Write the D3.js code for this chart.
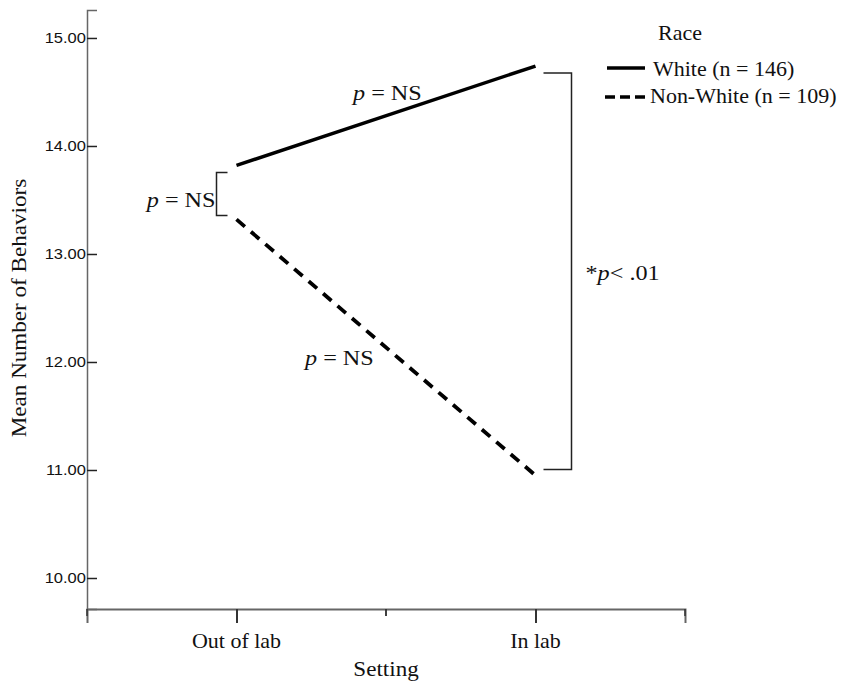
<!DOCTYPE html>
<html>
<head>
<meta charset="utf-8">
<script src="https://cdn.jsdelivr.net/npm/d3@7"></script>
<style>
  body { margin: 0; background: #fff; }
  .serif { font-family: "Liberation Serif", "Times New Roman", serif; fill: #111; }
  .tick text { font-family: "Liberation Sans", Arial, sans-serif; font-size: 15px; fill: #111; }
</style>
</head>
<body>
<script>
// Data
const settings = ['Out of lab', 'In lab'];
const whiteMeans = [13.82, 14.74];
const nonWhiteMeans = [13.32, 10.95];
const yTicks = [10, 11, 12, 13, 14, 15];
const seriesNames = ['White (n = 146)', 'Non-White (n = 109)'];

// SVG Canvas
const width = 845;
const height = 686;
const margin = { top: 10, left: 87, right: 160, bottom: 77 };
const sx = 1.1; // the source text is a bit wide

const svg = d3.select('body')
  .append('svg')
    .attr('width', width)
    .attr('height', height);

// Scales
const x = d3.scalePoint()
  .domain(settings)
  .range([margin.left, width - margin.right])
  .padding(0.5);

const xBand = d3.scaleBand()
  .domain(settings)
  .range([margin.left, width - margin.right]);

const y = d3.scaleLinear()
  .domain([9.713, 15.259])
  .range([height - margin.bottom, margin.top]);

// Text helper
function label(g, px, py, size, parts, anchor) {
  const t = g.append('text')
    .attr('class', 'serif')
    .attr('transform', `translate(${px},${py}) scale(${sx},1)`)
    .attr('font-size', size)
    .attr('text-anchor', anchor || 'start');
  parts.forEach((p) => {
    t.append('tspan')
      .attr('font-style', p.italic ? 'italic' : null)
      .text(p.text);
  });
  return t;
}
const pNS = [{ text: 'p', italic: true }, { text: ' = NS' }];

// Y axis
const yAxis = svg.append('g')
  .attr('transform', `translate(${margin.left},0)`)
  .call(d3.axisLeft(y).tickValues(yTicks).tickFormat(d3.format('.2f')).tickSize(-10).tickPadding(1));
yAxis.select('.domain').attr('stroke', '#666').attr('stroke-width', 1.5);
yAxis.selectAll('.tick line').attr('stroke', '#222').attr('stroke-width', 1.5);
yAxis.selectAll('.tick text').attr('transform', `scale(${sx},1)`);

// X axis
const xAxis = svg.append('g')
  .attr('transform', `translate(0,${height - margin.bottom})`)
  .call(d3.axisBottom(x).tickSize(14).tickFormat(''));
xAxis.select('.domain').attr('stroke', '#666').attr('stroke-width', 2);
xAxis.selectAll('.tick line').attr('stroke', '#333').attr('stroke-width', 2);

// boundary ticks between categories
const edges = settings.map((d) => xBand(d)).concat([xBand.range()[1]]);
edges.push((edges[0] + edges[edges.length - 1]) / 2);
xAxis.selectAll('line.minor')
    .data(edges)
  .enter().append('line')
    .attr('class', 'minor')
    .attr('x1', (d) => d)
    .attr('x2', (d) => d)
    .attr('y1', 0)
    .attr('y2', 7)
    .attr('stroke', '#333')
    .attr('stroke-width', 1.5);

settings.forEach((s) => {
  label(svg, x(s), height - 38, 20, [{ text: s }], 'middle');
});

// Axis titles
label(svg, (margin.left + width - margin.right) / 2, height - 10, 21, [{ text: 'Setting' }], 'middle');
svg.append('text')
    .attr('class', 'serif')
    .attr('transform', `translate(26,308) rotate(-90) scale(${sx},1)`)
    .attr('font-size', 21)
    .attr('text-anchor', 'middle')
    .text('Mean Number of Behaviors');

// Lines
const line = d3.line()
  .x((d, i) => x(settings[i]))
  .y((d) => y(d));

svg.append('path')
    .datum(whiteMeans)
    .attr('d', line)
    .attr('fill', 'none')
    .attr('stroke', '#000')
    .attr('stroke-width', 3.5);

svg.append('path')
    .datum(nonWhiteMeans)
    .attr('d', line)
    .attr('fill', 'none')
    .attr('stroke', '#000')
    .attr('stroke-width', 3.8)
    .attr('stroke-dasharray', '11,8');

// Brackets
const bracket = d3.line();
const lx = x(settings[0]) - 20;
svg.append('path')
    .attr('d', bracket([
      [lx + 11, y(whiteMeans[0]) + 7],
      [lx, y(whiteMeans[0]) + 7],
      [lx, y(nonWhiteMeans[0]) - 4],
      [lx + 11, y(nonWhiteMeans[0]) - 4],
    ]))
    .attr('fill', 'none')
    .attr('stroke', '#222')
    .attr('stroke-width', 1.5);

const rx = x(settings[1]) + 36;
svg.append('path')
    .attr('d', bracket([
      [rx - 28, y(whiteMeans[1]) + 7],
      [rx, y(whiteMeans[1]) + 7],
      [rx, y(nonWhiteMeans[1]) - 6],
      [rx - 28, y(nonWhiteMeans[1]) - 6],
    ]))
    .attr('fill', 'none')
    .attr('stroke', '#222')
    .attr('stroke-width', 1.5);

// Annotations
label(svg, lx - 1, 207, 22, pNS, 'end');
label(svg, 353, 100, 22, pNS);
label(svg, 305, 365, 22, pNS);
label(svg, rx + 14, 280, 22, [{ text: '*' }, { text: 'p', italic: true }, { text: '< .01' }]);

// Legend
const legend = svg.append('g').attr('transform', 'translate(605,0)');
label(legend, 53, 40, 20, [{ text: 'Race' }]);
legend.selectAll('line')
    .data(seriesNames)
  .enter().append('line')
    .attr('x1', (d, i) => i ? 0 : 2)
    .attr('x2', (d, i) => i ? 42 : 40)
    .attr('y1', (d, i) => 68 + i * 29)
    .attr('y2', (d, i) => 68 + i * 29)
    .attr('stroke', '#000')
    .attr('stroke-width', 3.5)
    .attr('stroke-dasharray', (d, i) => i ? '10,5' : null);
seriesNames.forEach((s, i) => {
  label(legend, i ? 45 : 48, 76 + i * 27, 20, [{ text: s }]);
});
</script>
</body>
</html>
